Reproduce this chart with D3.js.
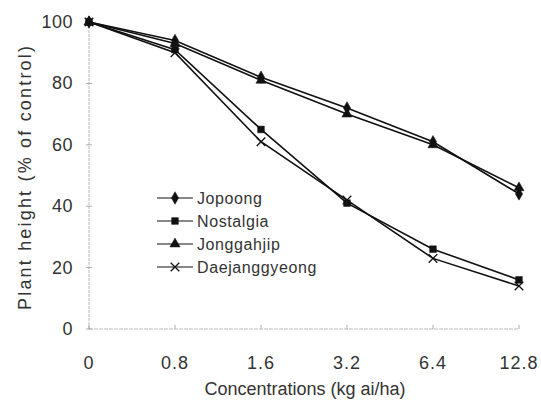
<!DOCTYPE html>
<html>
<head>
<meta charset="utf-8">
<script src="https://d3js.org/d3.v7.min.js"></script>
<style>
  body { margin: 0; background: #fff; }
  text { font-family: "Liberation Sans", Arial, sans-serif; fill: #333; }
</style>
</head>
<body>
<div class="chart"></div>
<script>
// values
const concentrations = ["0", "0.8", "1.6", "3.2", "6.4", "12.8"];
const jopoong = [100, 94, 82, 72, 61, 44];
const nostalgia = [100, 91, 65, 41, 26, 16];
const jonggahjip = [100, 93, 81, 70, 60, 46];
const daejanggyeong = [100, 90, 61, 42, 23, 14];
const yTicks = [0, 20, 40, 60, 80, 100];

const series = [
    {name: "Jopoong", values: jopoong, symbol: d3.symbolDiamond, size: 45},
    {name: "Nostalgia", values: nostalgia, symbol: d3.symbolSquare, size: 45},
    {name: "Jonggahjip", values: jonggahjip, symbol: d3.symbolTriangle, size: 45},
    {name: "Daejanggyeong", values: daejanggyeong, symbol: d3.symbolX, size: 50}
];

const width = 541;
const height = 400;
const svg = d3.select(".chart")
    .append("svg")
    .attr("width", width)
    .attr("height", height);

const x = d3.scalePoint()
    .domain(concentrations)
    .range([89, 519]);

const y = d3.scaleLinear()
    .domain([0, 100])
    .range([329, 22]);

// y axis
svg.append("line")
    .attr("x1", 89).attr("x2", 89)
    .attr("y1", y(100)).attr("y2", y(0))
    .attr("stroke", "#aaa")
    .attr("stroke-width", 0.8)
    .attr("stroke-dasharray", "3,1");

svg.selectAll(".ytick")
    .data(yTicks)
    .enter()
    .append("line")
    .attr("x1", 86).attr("x2", 92)
    .attr("y1", d => y(d)).attr("y2", d => y(d))
    .attr("stroke", "#999")
    .attr("stroke-width", 0.8);

svg.selectAll(".ylabel")
    .data(yTicks)
    .enter()
    .append("text")
    .text(d => d)
    .attr("x", 73)
    .attr("y", d => y(d) + 6)
    .attr("text-anchor", "end")
    .attr("font-size", "18px")
    .attr("letter-spacing", "0.5px");

// x axis
svg.append("line")
    .attr("x1", 89).attr("x2", 519)
    .attr("y1", y(0)).attr("y2", y(0))
    .attr("stroke", "#aaa")
    .attr("stroke-width", 0.8)
    .attr("stroke-dasharray", "4,1");

svg.selectAll(".xtick")
    .data(concentrations)
    .enter()
    .append("line")
    .attr("x1", d => x(d)).attr("x2", d => x(d))
    .attr("y1", y(0) - 4).attr("y2", y(0))
    .attr("stroke", "#999")
    .attr("stroke-width", 0.8);

svg.selectAll(".xlabel")
    .data(concentrations)
    .enter()
    .append("text")
    .text(d => d)
    .attr("x", d => x(d))
    .attr("y", 369)
    .attr("text-anchor", "middle")
    .attr("font-size", "18px")
    .attr("letter-spacing", "1px");

svg.append("text")
    .text("Concentrations (kg ai/ha)")
    .attr("x", 305)
    .attr("y", 395)
    .attr("text-anchor", "middle")
    .attr("font-size", "18px");

svg.append("text")
    .text("Plant height (% of control)")
    .attr("transform", "translate(31,178) rotate(-90)")
    .attr("text-anchor", "middle")
    .attr("font-size", "18px")
    .attr("textLength", 264)
    .attr("lengthAdjust", "spacing");

// lines and markers
const line = d3.line()
    .x((d, i) => x(concentrations[i]))
    .y(d => y(d));

series.forEach(s => {
    svg.append("path")
        .datum(s.values)
        .attr("d", line)
        .attr("fill", "none")
        .attr("stroke", "#111")
        .attr("stroke-width", 1.6);

    svg.selectAll(null)
        .data(s.values)
        .enter()
        .append("path")
        .attr("d", d3.symbol().type(s.symbol).size(s.size))
        .attr("transform", (d, i) => "translate(" + x(concentrations[i]) + "," + y(d) + ")")
        .attr("fill", "#111")
        .attr("stroke", "#111")
        .attr("stroke-width", s.symbol == d3.symbolX ? 1.3 : 0.5);
});

// legend
const legend = svg.selectAll(".legend")
    .data(series)
    .enter()
    .append("g")
    .attr("transform", (d, i) => "translate(157," + (198 + i * 23) + ")");

legend.append("line")
    .attr("x1", 0).attr("x2", 36)
    .attr("stroke", "#111")
    .attr("stroke-width", 1.2);

legend.append("path")
    .attr("d", d => d3.symbol().type(d.symbol).size(d.size)())
    .attr("transform", "translate(18,0)")
    .attr("fill", "#111")
    .attr("stroke", "#111")
    .attr("stroke-width", d => d.symbol == d3.symbolX ? 1.3 : 0.5);

legend.append("text")
    .text(d => d.name)
    .attr("x", 40)
    .attr("y", 6)
    .attr("font-size", "16px")
    .attr("letter-spacing", "0.6px");
</script>
</body>
</html>
